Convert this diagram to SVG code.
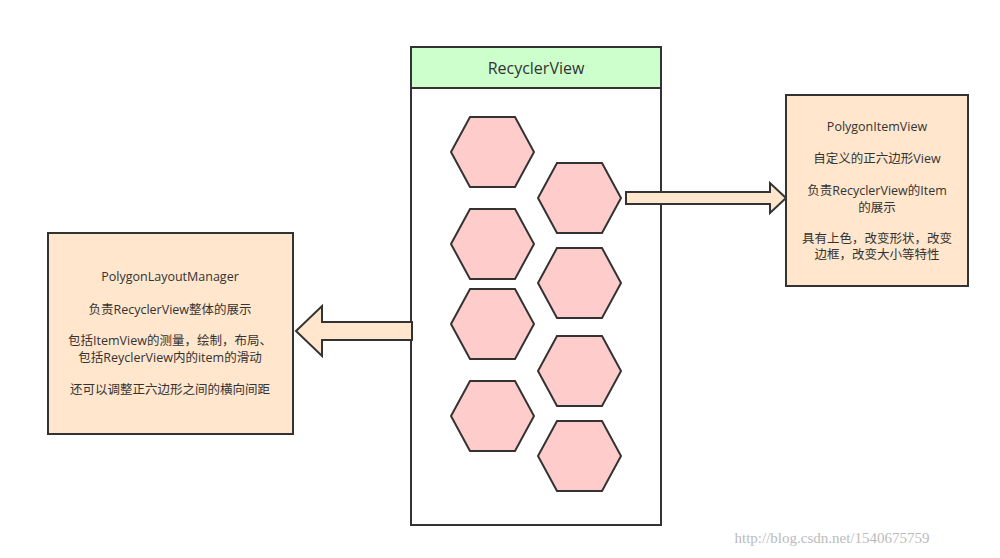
<svg xmlns="http://www.w3.org/2000/svg" width="1000" height="558" viewBox="0 0 1000 558">
<style>
text{font-family:"Open Sans","Noto Sans CJK SC",sans-serif;font-size:12.5px;fill:#333;text-anchor:middle}
.hex{fill:#ffcccc;stroke:#333;stroke-width:2}
.box{fill:#ffe6cc;stroke:#333;stroke-width:2}
.arr{fill:#ffe6cc;stroke:#333;stroke-width:2}
</style>
<defs><polygon id="h" points="0,35 19,0 64,0 83,35 64,70 19,70"/></defs>
<rect width="1000" height="558" fill="#fff"/>
<g id="recyclerview">
<rect x="411" y="47" width="250" height="478" fill="#fff" stroke="#333" stroke-width="2"/>
<rect x="411" y="47" width="250" height="41" fill="#ccffcc" stroke="#333" stroke-width="2"/>
<text x="536" y="74" style="font-size:16px">RecyclerView</text>
</g>
<g id="hexagons">
<use href="#h" class="hex" x="451" y="117"/>
<use href="#h" class="hex" x="451" y="209"/>
<use href="#h" class="hex" x="451" y="289"/>
<use href="#h" class="hex" x="451" y="381"/>
<use href="#h" class="hex" x="538" y="163"/>
<use href="#h" class="hex" x="538" y="248"/>
<use href="#h" class="hex" x="538" y="336"/>
<use href="#h" class="hex" x="538" y="421"/>
</g>
<g id="connectors">
<polygon class="arr" points="626,192 770,192 770,183 786,198 770,213 770,204 626,204"/>
<polygon class="arr" points="412,322 322,322 322,306 296,331 322,356 322,340 412,340"/>
</g>
<g id="polygonlayoutmanager">
<rect class="box" x="48" y="233" width="245" height="201"/>
<text x="170" y="281">PolygonLayoutManager</text>
<text x="170" y="314">负责RecyclerView整体的展示</text>
<text x="170" y="345">包括ItemView的测量，绘制，布局、</text>
<text x="170" y="362">包括ReyclerView内的item的滑动</text>
<text x="170" y="394">还可以调整正六边形之间的横向间距</text>
</g>
<g id="polygonitemview">
<rect class="box" x="786" y="95" width="182" height="191"/>
<text x="877" y="131">PolygonItemView</text>
<text x="877" y="163">自定义的正六边形View</text>
<text x="877" y="195">负责RecyclerView的Item</text>
<text x="877" y="212">的展示</text>
<text x="877" y="243">具有上色，改变形状，改变</text>
<text x="877" y="259">边框，改变大小等特性</text>
</g>
<text x="832" y="543" style="font-family:'Liberation Serif',serif;font-size:15px;fill:#bbb">http://blog.csdn.net/1540675759</text>
</svg>
